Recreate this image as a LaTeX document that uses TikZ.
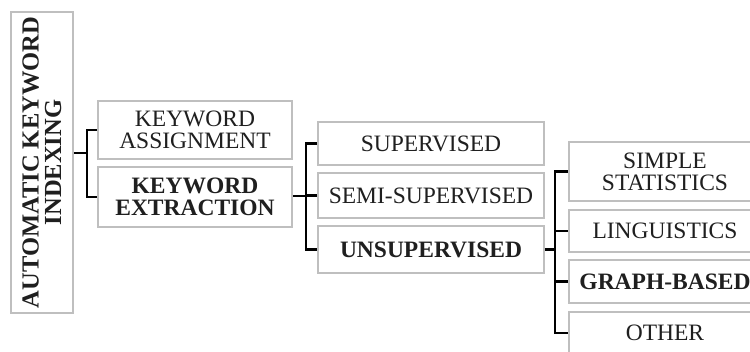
\documentclass[tikz,border=0pt]{standalone}
\usepackage{fontspec}
\setmainfont{Liberation Serif}
\begin{document}
\begin{tikzpicture}[x=1pt,y=-1pt,
  box/.style={draw=gray!50, line width=1.6pt, fill=white, inner sep=0pt, align=center,
    text=black!88, font=\fontsize{23.5}{22}\selectfont},
  rootbox/.style={box, rotate=90, font=\bfseries\fontsize{24.5}{22.5}\selectfont},
  conn/.style={draw=black, line width=2.2pt}]
\useasboundingbox (0,0) rectangle (750,351);
\clip (0,0) rectangle (750,351);
% root
\node[rootbox, minimum width=301pt, minimum height=62pt] (root) at (42,162.5) {AUTOMATIC KEYWORD\\INDEXING};
% level 1
\node[box, minimum width=194pt, minimum height=58pt] (assign) at (195,130) {KEYWORD\\ASSIGNMENT};
\node[box, minimum width=194pt, minimum height=60pt] (extract) at (195,197) {\bfseries KEYWORD\\\bfseries EXTRACTION};
% level 2
\node[box, minimum width=226pt, minimum height=43pt] (sup) at (431,143.5) {SUPERVISED};
\node[box, minimum width=226pt, minimum height=45pt] (semi) at (431,195.5) {SEMI-SUPERVISED};
\node[box, minimum width=226pt, minimum height=47pt] (unsup) at (431,249.5) {\bfseries UNSUPERVISED};
% level 3
\node[box, minimum width=192pt, minimum height=59pt] (simple) at (665,171.5) {SIMPLE\\STATISTICS};
\node[box, minimum width=192pt, minimum height=42pt] (ling) at (665,231) {LINGUISTICS};
\node[box, minimum width=192pt, minimum height=43pt] (graph) at (665,281.5) {\bfseries GRAPH-BASED};
\node[box, minimum width=192pt, minimum height=42pt] (other) at (665,333) {OTHER};
% connectors
\coordinate (j0) at (87,153);
\coordinate (j1) at (306,196);
\coordinate (j2) at (555,250);
\draw[conn] (root.south |- j0) -- (j0);
\draw[conn] (assign.west) -| (j0) |- (extract.west);
\draw[conn] (extract.east |- j1) -- (j1);
\draw[conn] (sup.west) -| (j1) |- (unsup.west);
\draw[conn] (semi.west) -- (semi.west -| j1);
\draw[conn] (unsup.east) -- (unsup.east -| j2);
\draw[conn] (simple.west) -| (j2) |- (other.west);
\draw[conn] (ling.west) -- (ling.west -| j2);
\draw[conn] (graph.west) -- (graph.west -| j2);
\end{tikzpicture}
\end{document}
